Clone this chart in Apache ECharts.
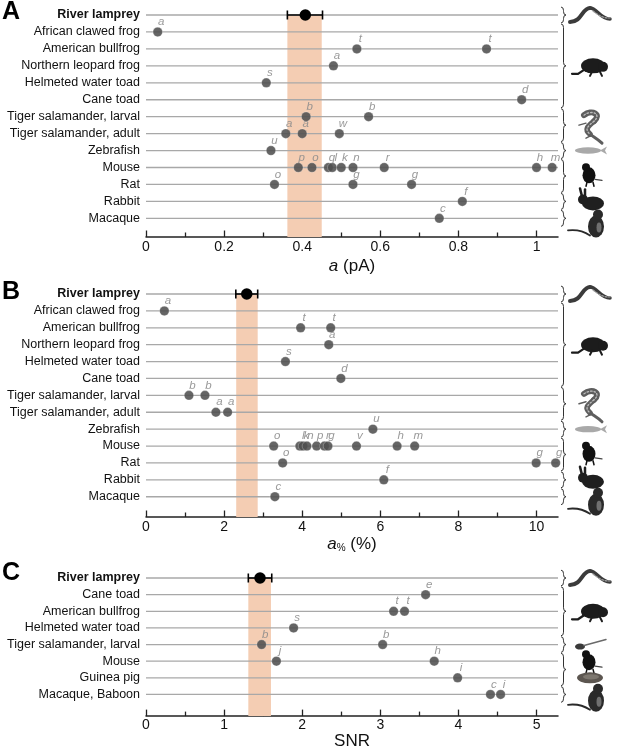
<!DOCTYPE html>
<html lang="en">
<head>
    <meta charset="UTF-8">
    <title>Dark noise comparison</title>
    <script src="https://cdn.jsdelivr.net/npm/echarts@6/dist/echarts.min.js"></script>
    <style>
        html, body { margin: 0; padding: 0; background: #fff; }
        #chart { width: 617px; height: 751px; }
    </style>
</head>
<body>
<div id="chart"></div>
<script>
    // ---- data ----
    var speciesA = ['River lamprey', 'African clawed frog', 'American bullfrog', 'Northern leopard frog',
        'Helmeted water toad', 'Cane toad', 'Tiger salamander, larval', 'Tiger salamander, adult',
        'Zebrafish', 'Mouse', 'Rat', 'Rabbit', 'Macaque'];
    var speciesC = ['River lamprey', 'Cane toad', 'American bullfrog', 'Helmeted water toad',
        'Tiger salamander, larval', 'Mouse', 'Guinea pig', 'Macaque, Baboon'];

    // [value, row, reference letter]
    var pointsA = [
        [0.03, 1, 'a'],
        [0.54, 2, 't'], [0.872, 2, 't'],
        [0.48, 3, 'a'],
        [0.308, 4, 's'],
        [0.962, 5, 'd'],
        [0.41, 6, 'b'], [0.57, 6, 'b'],
        [0.358, 7, 'a'], [0.40, 7, 'a'], [0.495, 7, 'w'],
        [0.32, 8, 'u'],
        [0.39, 9, 'p'], [0.425, 9, 'o'], [0.467, 9, 'q'], [0.477, 9, 'l'], [0.50, 9, 'k'],
        [0.53, 9, 'n'], [0.61, 9, 'r'], [1.0, 9, 'h'], [1.04, 9, 'm'],
        [0.329, 10, 'o'], [0.53, 10, 'g'], [0.68, 10, 'g'],
        [0.81, 11, 'f'],
        [0.751, 12, 'c']
    ];
    var pointsB = [
        [0.47, 1, 'a'],
        [3.96, 2, 't'], [4.73, 2, 't'],
        [4.68, 3, 'a'],
        [3.57, 4, 's'],
        [4.99, 5, 'd'],
        [1.10, 6, 'b'], [1.51, 6, 'b'],
        [1.79, 7, 'a'], [2.09, 7, 'a'],
        [5.81, 8, 'u'],
        [3.27, 9, 'o'], [3.94, 9, 'l'], [4.02, 9, 'k'], [4.12, 9, 'n'], [4.37, 9, 'p'],
        [4.57, 9, 'r'], [4.66, 9, 'g'], [5.39, 9, 'v'], [6.43, 9, 'h'], [6.88, 9, 'm'],
        [3.50, 10, 'o'], [9.99, 10, 'g'], [10.49, 10, 'g'],
        [6.09, 11, 'f'],
        [3.30, 12, 'c']
    ];
    var pointsC = [
        [3.58, 1, 'e'],
        [3.17, 2, 't'], [3.31, 2, 't'],
        [1.89, 3, 's'],
        [1.48, 4, 'b'], [3.03, 4, 'b'],
        [1.67, 5, 'j'], [3.69, 5, 'h'],
        [3.99, 6, 'i'],
        [4.41, 7, 'c'], [4.54, 7, 'i']
    ];

    // river lamprey: [mean, low, high]
    var lampreyA = [0.408, 0.362, 0.452];
    var lampreyB = [2.58, 2.30, 2.86];
    var lampreyC = [1.46, 1.31, 1.61];
    // shaded range
    var bandA = [0.362, 0.45];
    var bandB = [2.31, 2.86];
    var bandC = [1.31, 1.60];

    // tick labels
    var ticksA = [0, 0.2, 0.4, 0.6, 0.8, 1];
    var minorA = [0.1, 0.3, 0.5, 0.7, 0.9];
    var ticksB = [0, 2, 4, 6, 8, 10];
    var minorB = [1, 3, 5, 7, 9];
    var ticksC = [0, 1, 2, 3, 4, 5];
    var minorC = [0.5, 1.5, 2.5, 3.5, 4.5];

    // brace groups [first row, last row]
    var groupsA = [[0, 0], [1, 5], [6, 7], [8, 8], [9, 10], [11, 11], [12, 12]];
    var groupsC = [[0, 0], [1, 3], [4, 4], [5, 6], [7, 7]];
    // pictures: [kind, row]
    var picsA = [['lamprey', 0], ['frog', 3], ['salamander', 6.5], ['fish', 8], ['mouse', 9.4], ['rabbit', 11], ['macaque', 12.3]];
    var picsC = [['lamprey', 0], ['frog', 2], ['larva', 4], ['mouse', 5], ['guinea', 6], ['macaque', 7.2]];

    var FONT = '"Liberation Sans", Arial, Helvetica, sans-serif';

    var panels = [
        { letter: 'A', top: 15, height: 222, rowMax: 13.1, species: speciesA, pts: pointsA, lamprey: lampreyA,
          band: bandA, xmax: 1.055, ticks: ticksA, minor: minorA, name: '{i|a} (pA)', nameGap: 21, labelMargin: 3,
          groups: groupsA, pics: picsA, letterY: 0 },
        { letter: 'B', top: 294, height: 223, rowMax: 13.2, species: speciesA, pts: pointsB, lamprey: lampreyB,
          band: bandB, xmax: 10.55, ticks: ticksB, minor: minorB, name: '{i|a}{s|%} (%)', nameGap: 19, labelMargin: 3,
          groups: groupsA, pics: picsA, letterY: 280 },
        { letter: 'C', top: 578, height: 140, rowMax: 8.3, species: speciesC, pts: pointsC, lamprey: lampreyC,
          band: bandC, xmax: 5.275, ticks: ticksC, minor: minorC, name: 'SNR', nameGap: 9, labelMargin: 2,
          groups: groupsC, pics: picsC, letterY: 561 }
    ];

    // ---- small drawing helpers (local coords) ----
    function ell(cx, cy, rx, ry, fill) {
        return { type: 'circle', x: cx, y: cy, scaleX: rx, scaleY: ry, shape: { cx: 0, cy: 0, r: 1 }, style: { fill: fill } };
    }
    function crv(pts, stroke, w, dash) {
        return { type: 'bezierCurve',
            shape: { x1: pts[0], y1: pts[1], cpx1: pts[2], cpy1: pts[3], cpx2: pts[4], cpy2: pts[5], x2: pts[6], y2: pts[7] },
            style: { fill: null, stroke: stroke, lineWidth: w, lineCap: 'round', lineDash: dash || null } };
    }
    function pl(points, stroke, w) {
        return { type: 'polyline', shape: { points: points }, style: { fill: null, stroke: stroke, lineWidth: w, lineCap: 'round' } };
    }
    function pg(points, fill) {
        return { type: 'polygon', shape: { points: points }, style: { fill: fill } };
    }

    function animal(kind) {
        var c = [];
        if (kind === 'lamprey') {
            c.push(crv([-20, 7, -8, 7, -8, -7, 0, -7], '#3b3b3b', 4));
            c.push(crv([0, -7, 7, -7, 10, 4, 20, 4], '#3b3b3b', 3.5));
            c.push(crv([3, -4, 8, 0, 12, 3, 20, 3], '#a0a0a0', 1.2, [2, 1.5]));
        } else if (kind === 'frog') {
            c.push(ell(3, 0, 12, 7.5, '#1c1c1c'));
            c.push(ell(13, 1, 5, 5, '#1c1c1c'));
            c.push(pl([[-6, 4], [-12, 8], [-18, 8]], '#1c1c1c', 2.2));
            c.push(pl([[2, 6], [0, 10]], '#1c1c1c', 2));
            c.push(pl([[10, 6], [12, 10]], '#1c1c1c', 2));
        } else if (kind === 'salamander') {
            c.push(crv([-6, -10, 2, -16, 12, -11, 4, -4], '#5e5e5e', 6));
            c.push(crv([4, -4, -2, 1, -6, 4, 0, 9], '#5e5e5e', 5.5));
            c.push(crv([0, 9, 4, 12, 8, 14, 12, 18], '#5e5e5e', 3));
            c.push(crv([-6, -10, 2, -16, 12, -11, 4, -4], '#bdbdbd', 1.3, [1.5, 2]));
            c.push(crv([4, -4, -2, 1, -6, 4, 0, 9], '#bdbdbd', 1.3, [1.5, 2]));
            c.push(pl([[-4, -2], [-11, 0]], '#5e5e5e', 1.5));
            c.push(pl([[2, 10], [-4, 13]], '#5e5e5e', 1.5));
        } else if (kind === 'fish') {
            c.push(ell(-2, 0, 13, 3.2, '#a9a9a9'));
            c.push(pg([[10, 0], [17, -4], [15, 0], [17, 4]], '#a9a9a9'));
        } else if (kind === 'mouse') {
            c.push(ell(-1, 1, 6.5, 8, '#111'));
            c.push(ell(-4, -7, 4, 4, '#111'));
            c.push(pl([[5, 5], [12, 6]], '#444', 1.2));
            c.push(pl([[-3, 8], [-4, 12]], '#111', 1.5));
            c.push(pl([[3, 8], [4, 12]], '#111', 1.5));
        } else if (kind === 'rabbit') {
            c.push(ell(3, 2, 11, 7, '#1f1f1f'));
            c.push(ell(-7, -2, 5, 5, '#1f1f1f'));
            c.push(pl([[-8, -5], [-10, -13]], '#1f1f1f', 2.5));
            c.push(pl([[-5, -5], [-5, -12]], '#1f1f1f', 2.5));
        } else if (kind === 'macaque') {
            c.push(ell(6, 3, 8, 11, '#2a2a2a'));
            c.push(ell(8, -9, 5, 5, '#2a2a2a'));
            c.push(ell(9, 4, 2.5, 5, '#707070'));
            c.push(crv([0, 12, -6, 8, -14, 6, -22, 7], '#2a2a2a', 1.8));
        } else if (kind === 'guinea') {
            c.push(ell(0, 0, 13, 5.5, '#5c5650'));
            c.push(ell(1, -1, 8, 2.6, '#7d776f'));
        } else if (kind === 'larva') {
            c.push(ell(-10, 2, 5, 3, '#3a3a3a'));
            c.push(pl([[-6, 1], [16, -5]], '#6a6a6a', 1.5));
        }
        return c;
    }

    var grid = [], xAxis = [], yAxis = [], series = [];

    panels.forEach(function (p, k) {
        grid.push({ left: 146, right: 59, top: p.top, height: p.height, containLabel: false });

        xAxis.push({
            type: 'value', gridIndex: k, min: 0, max: p.xmax, position: 'bottom',
            name: p.name, nameLocation: 'middle', nameGap: p.nameGap,
            nameTextStyle: {
                fontFamily: FONT, fontSize: 17, color: '#111',
                rich: {
                    i: { fontFamily: FONT, fontSize: 17, fontStyle: 'italic', color: '#111' },
                    s: { fontFamily: FONT, fontSize: 10, color: '#111', verticalAlign: 'bottom', padding: [6, 0, 0, 0] }
                }
            },
            axisLine: { show: true, onZero: false, lineStyle: { color: '#222', width: 1.5 } },
            axisTick: { show: true, inside: true, length: 6.5, customValues: p.ticks, lineStyle: { color: '#222', width: 1.3 } },
            axisLabel: { customValues: p.ticks, margin: p.labelMargin, fontFamily: FONT, fontSize: 14, color: '#111' },
            splitLine: { show: false }
        });
        // minor ticks
        xAxis.push({
            type: 'value', gridIndex: k, min: 0, max: p.xmax, position: 'bottom',
            axisLine: { show: false, onZero: false },
            axisTick: { show: true, inside: true, length: 4.5, customValues: p.minor, lineStyle: { color: '#222', width: 1.3 } },
            axisLabel: { show: false },
            splitLine: { show: false }
        });

        yAxis.push({
            type: 'value', gridIndex: k, min: 0, max: p.rowMax, interval: 1, inverse: true,
            axisLine: { show: false },
            axisTick: { show: false },
            axisLabel: {
                margin: 6, fontFamily: FONT, fontSize: 12.5, color: '#111',
                formatter: function (v) {
                    if (Math.abs(v - Math.round(v)) > 1e-6 || v >= p.species.length) return '';
                    var name = p.species[Math.round(v)];
                    return v === 0 ? '{b|' + name + '}' : name;
                },
                rich: { b: { fontFamily: FONT, fontSize: 12.5, fontWeight: 'bold', color: '#111' } }
            },
            splitLine: { show: false }
        });

        // row lines
        series.push({
            type: 'custom', xAxisIndex: 2 * k, yAxisIndex: k, z: 1, silent: true,
            data: p.species.map(function (s, i) { return [0, p.xmax, i]; }),
            encode: { x: [0, 1], y: 2 },
            renderItem: function (params, api) {
                var a = api.coord([api.value(0), api.value(2)]);
                var b = api.coord([api.value(1), api.value(2)]);
                return { type: 'line', shape: { x1: a[0], y1: a[1], x2: b[0], y2: b[1] },
                    style: { stroke: '#a8a8a8', lineWidth: 1.3 } };
            }
        });

        // error bar for lamprey + shaded band
        series.push({
            type: 'custom', xAxisIndex: 2 * k, yAxisIndex: k, z: 3, silent: true,
            data: [[p.lamprey[1], p.lamprey[2], 0]],
            encode: { x: [0, 1], y: 2 },
            renderItem: function (params, api) {
                var a = api.coord([api.value(0), api.value(2)]);
                var b = api.coord([api.value(1), api.value(2)]);
                var h = 4.5, st = { stroke: '#000', lineWidth: 1.6 };
                return {
                    type: 'group', children: [
                        { type: 'line', shape: { x1: a[0], y1: a[1], x2: b[0], y2: b[1] }, style: st },
                        { type: 'line', shape: { x1: a[0], y1: a[1] - h, x2: a[0], y2: a[1] + h }, style: st },
                        { type: 'line', shape: { x1: b[0], y1: b[1] - h, x2: b[0], y2: b[1] + h }, style: st }
                    ]
                };
            },
            markArea: {
                silent: true,
                itemStyle: { color: '#f4cdb3' },
                data: [[{ xAxis: p.band[0], yAxis: 0 }, { xAxis: p.band[1], yAxis: p.rowMax }]]
            }
        });
        series.push({
            type: 'scatter', xAxisIndex: 2 * k, yAxisIndex: k, z: 4,
            symbolSize: 11.5,
            itemStyle: { color: '#000', opacity: 1 },
            data: [[p.lamprey[0], 0]]
        });
        series.push({
            type: 'scatter', xAxisIndex: 2 * k, yAxisIndex: k, z: 4,
            symbolSize: 9.5,
            itemStyle: { color: '#505050', opacity: 0.88, borderColor: 'rgba(255,255,255,0.6)', borderWidth: 0.5 },
            label: {
                show: true, position: 'top', distance: 0, offset: [3.5, 1],
                formatter: function (d) { return d.data[2]; },
                fontFamily: FONT, fontSize: 11.5, fontStyle: 'italic', color: '#8c8c8c'
            },
            data: p.pts
        });

        // braces on the right, one per animal group
        series.push({
            type: 'custom', xAxisIndex: 2 * k, yAxisIndex: k, z: 2, silent: true, clip: false,
            data: p.groups.map(function (g) { return [p.xmax, g[0], g[1]]; }),
            encode: { x: 0, y: [1, 2] },
            renderItem: function (params, api) {
                var top = api.coord([api.value(0), api.value(1) - 0.47]);
                var bot = api.coord([api.value(0), api.value(2) + 0.47]);
                var x0 = top[0] + 3, w = 5, r = 3.5, xm = x0 + w / 2;
                var ya = top[1], yb = bot[1], ym = (ya + yb) / 2;
                var st = { fill: null, stroke: '#333', lineWidth: 1 };
                var q = function (x1, y1, cx, cy, x2, y2) {
                    return { type: 'bezierCurve', shape: { x1: x1, y1: y1, cpx1: cx, cpy1: cy, x2: x2, y2: y2 }, style: st };
                };
                return { type: 'group', children: [
                    q(x0, ya, xm, ya, xm, ya + r),
                    { type: 'line', shape: { x1: xm, y1: ya + r, x2: xm, y2: ym - r }, style: st },
                    q(xm, ym - r, xm, ym, x0 + w, ym),
                    q(x0 + w, ym, xm, ym, xm, ym + r),
                    { type: 'line', shape: { x1: xm, y1: ym + r, x2: xm, y2: yb - r }, style: st },
                    q(xm, yb - r, xm, yb, x0, yb)
                ] };
            }
        });

        // animal sketches
        series.push({
            type: 'custom', xAxisIndex: 2 * k, yAxisIndex: k, z: 2, silent: true, clip: false,
            data: p.pics.map(function (pc) { return [p.xmax, pc[1]]; }),
            encode: { x: 0, y: 1 },
            renderItem: function (params, api) {
                var pt = api.coord([api.value(0), api.value(1)]);
                return { type: 'group', x: pt[0] + 32, y: pt[1], children: animal(p.pics[params.dataIndex][0]) };
            }
        });
    });

    var chart = echarts.init(document.getElementById('chart'), null, { renderer: 'canvas' });
    chart.setOption({
        animation: false,
        grid: grid, xAxis: xAxis, yAxis: yAxis, series: series,
        graphic: panels.map(function (p) {
            return { type: 'text', left: 2, top: p.letterY, silent: true,
                style: { text: p.letter, font: 'bold 25px ' + FONT, fill: '#000' } };
        })
    });
</script>
</body>
</html>
